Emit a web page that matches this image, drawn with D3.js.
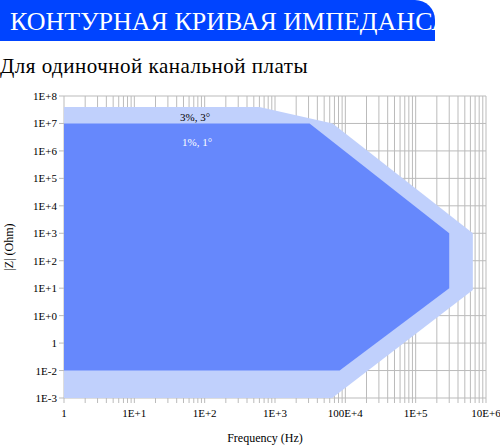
<!DOCTYPE html>
<html><head><meta charset="utf-8">
<script src="https://cdn.jsdelivr.net/npm/d3@7"></script>
<style>body{margin:0;background:#fff}svg{font-family:"Liberation Serif",serif}</style>
</head><body><svg id="c" width="500" height="448"></svg>
<script>
const xTickVals = [1, 10, 100, 1000, 10000, 100000, 1000000];
const xTickLabels = ["1", "1E+1", "1E+2", "1E+3", "100E+4", "1E+5", "10E+6"];
const yTickVals = [1e-3, 1e-2, 1e-1, 1, 10, 100, 1e3, 1e4, 1e5, 1e6, 1e7, 1e8];
const yTickLabels = ["1E-3", "1E-2", "1", "1E+0", "1E+1", "1E+2", "1E+3", "1E+4", "1E+5", "1E+6", "1E+7", "1E+8"];
const outerF = [1, 600, 6600, 650000, 650000, 6500, 1];
const outerZ = [4e7, 4e7, 1e7, 1e3, 8.5, 1e-3, 1e-3];
const innerF = [1, 3100, 300000, 300000, 8300, 1];
const innerZ = [1e7, 1e7, 1e3, 10, 1e-2, 1e-2];

const svg = d3.select("#c");
const m = {l: 64, r: 486, t: 96, b: 398};
const x = d3.scaleLog().domain([1, 1e6]).range([m.l, m.r]);
const y = d3.scaleLog().domain([1e-3, 1e8]).range([m.b, m.t]);

// banner
svg.append("path").attr("d", "M0,0H415A20,20 0 0 1 435,20V41H0Z").attr("fill", "#0044ff");
svg.append("text").attr("x", 10).attr("y", 30).attr("fill", "#fff").attr("font-size", 26).text("КОНТУРНАЯ КРИВАЯ ИМПЕДАНСА");
svg.append("text").attr("x", 0).attr("y", 73).attr("font-size", 21).attr("letter-spacing", 0.5).text("Для одиночной канальной платы");

// grid
const minors = [];
for (let d = 1; d < 1e6; d *= 10) for (let k = 1; k < 10; k++) minors.push(d * k);
minors.push(1e6);
svg.append("g").selectAll("line").data(minors).join("line")
  .attr("x1", d => x(d)).attr("x2", d => x(d)).attr("y1", m.t).attr("y2", m.b + 5)
  .attr("stroke", "#bbb").attr("stroke-width", 1);
svg.append("g").selectAll("line").data(yTickVals).join("line")
  .attr("x1", m.l - 5).attr("x2", m.r).attr("y1", d => y(d)).attr("y2", d => y(d))
  .attr("stroke", "#bbb");

const line = d3.line().x(d => x(d[0])).y(d => y(d[1]));
svg.append("path").attr("d", line(d3.zip(outerF, outerZ)) + "Z").attr("fill", "#c0d0fc");
svg.append("path").attr("d", line(d3.zip(innerF, innerZ)) + "Z").attr("fill", "#6688fc");

svg.append("text").attr("x", 195).attr("y", 121).attr("text-anchor", "middle").attr("font-size", 11).text("3%, 3°");
svg.append("text").attr("x", 197).attr("y", 146).attr("text-anchor", "middle").attr("font-size", 11).attr("fill", "#fff").text("1%, 1°");

// axes labels
svg.append("g").selectAll("text").data(yTickVals).join("text")
  .attr("x", m.l - 7).attr("y", d => y(d) + 4).attr("text-anchor", "end").attr("font-size", 11)
  .text((d, i) => yTickLabels[i]);
svg.append("g").selectAll("text").data(xTickVals).join("text")
  .attr("x", d => x(d)).attr("y", m.b + 19).attr("text-anchor", "middle").attr("font-size", 11)
  .text((d, i) => xTickLabels[i]);
svg.append("text").attr("x", 265).attr("y", 442).attr("text-anchor", "middle").attr("font-size", 12).text("Frequency (Hz)");
svg.append("text").attr("transform", "translate(13,247) rotate(-90)").attr("text-anchor", "middle").attr("font-size", 12).text("|Z| (Ohm)");
</script></body></html>
